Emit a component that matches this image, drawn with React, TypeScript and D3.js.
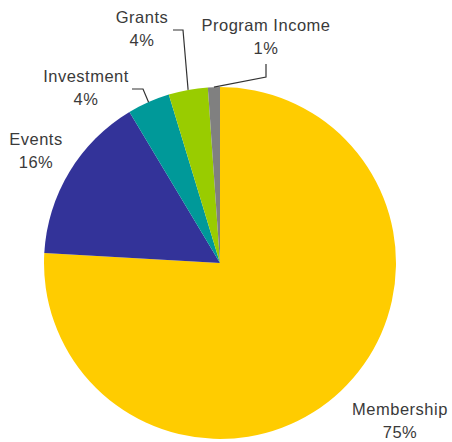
import React, { useEffect, useRef } from "react";
import * as d3 from "d3";

const categories = ["Membership", "Events", "Investment", "Grants", "Program Income"];
const shares = [75.9, 15.5, 3.9, 3.6, 1.1];
const pctLabels = ["75%", "16%", "4%", "4%", "1%"];
const colors = ["#FFCC00", "#333399", "#009999", "#99CC00", "#808080"];

// label anchors (centre x, baseline of first line) and optional leader elbows
const labelPos: [number, number][] = [
  [400, 415],
  [36, 145],
  [86, 82],
  [142, 23],
  [266, 31],
];
const leaders: ([number, number][] | null)[] = [
  null,
  null,
  [[132, 89], [143, 89]],
  [[173, 30], [183, 30]],
  [[266, 64], [266, 77]],
];

const W = 452;
const H = 442;

export default function App() {
  const svgRef = useRef<SVGSVGElement>(null);

  useEffect(() => {
    if (!svgRef.current) return;
    const svg = d3.select(svgRef.current);
    svg.selectAll("*").remove();

    const cx = 220;
    const cy = 263;
    const r = 176;

    const data = categories.map((c, i) => ({ name: c, value: shares[i], i }));
    const pie = d3
      .pie<{ name: string; value: number; i: number }>()
      .sort(null)
      .value((d) => d.value);
    const arcs = pie(data);
    const arc = d3
      .arc<d3.PieArcDatum<{ name: string; value: number; i: number }>>()
      .innerRadius(0)
      .outerRadius(r);

    const g = svg.append("g").attr("transform", `translate(${cx},${cy})`);
    g.selectAll("path")
      .data(arcs)
      .join("path")
      .attr("d", arc)
      .attr("fill", (d) => colors[d.data.i]);

    // leader lines
    arcs.forEach((a) => {
      const pts = leaders[a.data.i];
      if (!pts) return;
      const mid = (a.startAngle + a.endAngle) / 2;
      const end: [number, number] = [cx + r * Math.sin(mid), cy - r * Math.cos(mid)];
      svg
        .append("polyline")
        .attr("points", [...pts, end].map((p) => p.join(",")).join(" "))
        .attr("fill", "none")
        .attr("stroke", "#333")
        .attr("stroke-width", 1.2);
    });

    // labels
    categories.forEach((c, i) => {
      const [x, y] = labelPos[i];
      const t = svg
        .append("text")
        .attr("text-anchor", "middle")
        .attr("font-family", "'Liberation Sans', Arial, sans-serif")
        .attr("font-size", 16.5)
        .attr("letter-spacing", 0.5)
        .attr("fill", "#3a3a3a");
      t.append("tspan").attr("x", x).attr("y", y).text(c);
      t.append("tspan").attr("x", x).attr("y", y + 23).text(pctLabels[i]);
    });
  }, []);

  return (
    <svg
      ref={svgRef}
      width={W}
      height={H}
      style={{ position: "absolute", left: 0, top: 0, display: "block", background: "#fff" }}
    />
  );
}
